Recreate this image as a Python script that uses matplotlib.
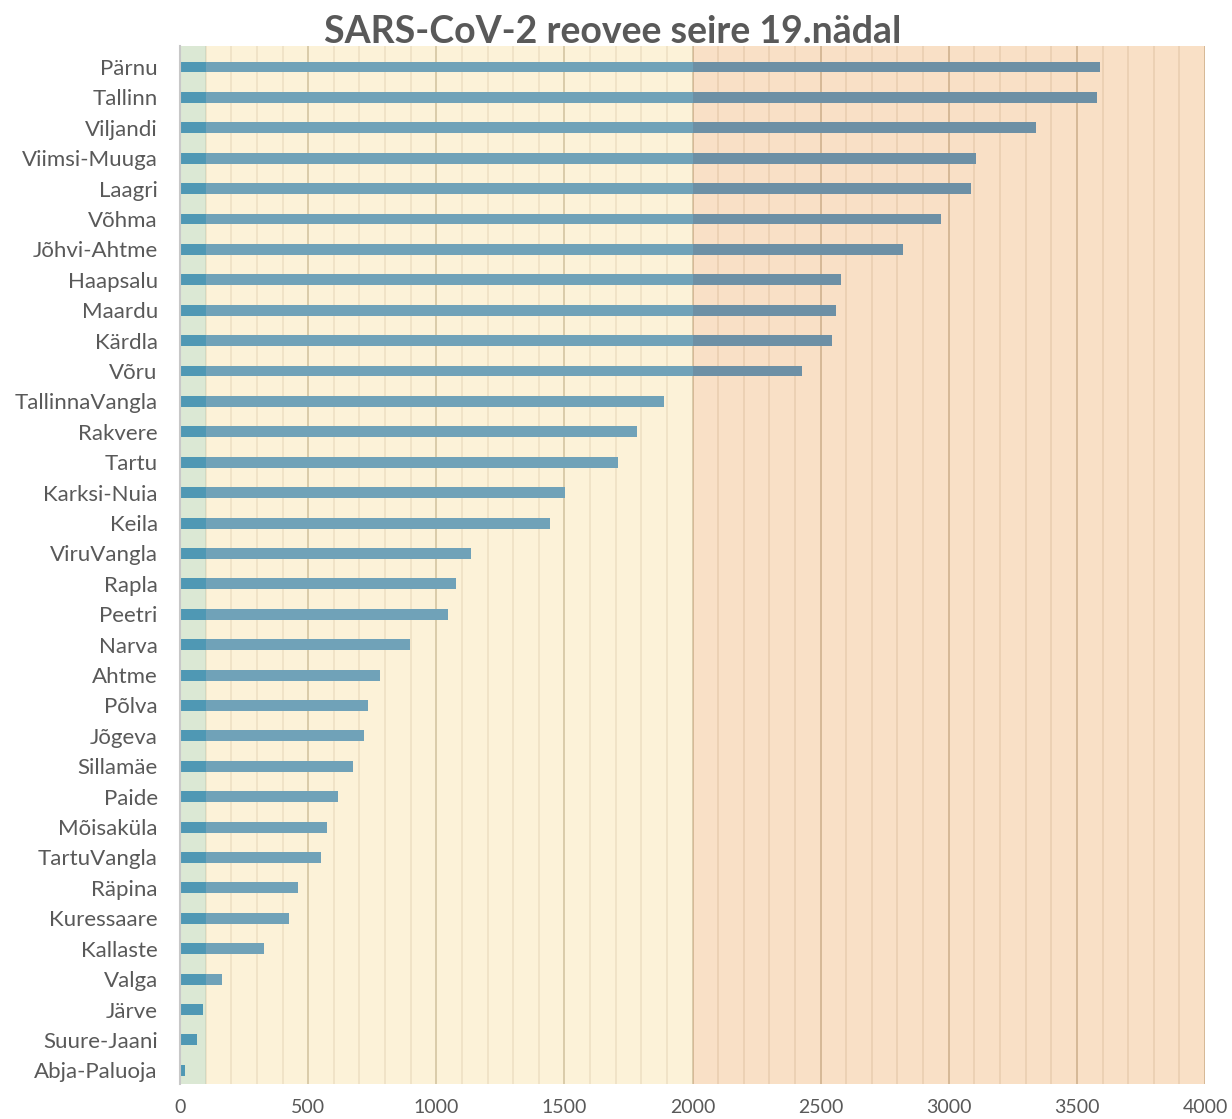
import matplotlib
matplotlib.use("Agg")
import matplotlib.pyplot as plt
from matplotlib.ticker import MultipleLocator

places = ["Pärnu", "Tallinn", "Viljandi", "Viimsi-Muuga", "Laagri", "Võhma",
          "Jõhvi-Ahtme", "Haapsalu", "Maardu", "Kärdla", "Võru", "TallinnaVangla",
          "Rakvere", "Tartu", "Karksi-Nuia", "Keila", "ViruVangla", "Rapla",
          "Peetri", "Narva", "Ahtme", "Põlva", "Jõgeva", "Sillamäe", "Paide",
          "Mõisaküla", "TartuVangla", "Räpina", "Kuressaare", "Kallaste", "Valga",
          "Järve", "Suure-Jaani", "Abja-Paluoja"]
values = [3590, 3578, 3340, 3106, 3087, 2970, 2821, 2580, 2560, 2544, 2427, 1889,
          1783, 1709, 1502, 1444, 1136, 1077, 1046, 898, 780, 734, 718, 675, 617,
          574, 550, 460, 425, 328, 164, 90, 66, 20]
# background level bands (start, end)
band_edges = [0, 100, 2000, 4000]
band_colors = ["#73a757", "#f7cf67", "#e8851c"]
xticks = [0, 500, 1000, 1500, 2000, 2500, 3000, 3500, 4000]

plt.rcParams['font.family'] = ['Lato', 'DejaVu Sans']
fig = plt.figure(figsize=(12.32, 11.19), dpi=100)
ax = fig.add_axes([180/1232, 1 - 1084/1119, (1205-180)/1232, (1084-46)/1119])

n = len(places)
ypos = list(range(n))
ax.barh(ypos, values, height=0.36, color="#4494d4", zorder=2)

for i in range(len(band_colors)):
    ax.axvspan(band_edges[i], band_edges[i+1], color=band_colors[i], alpha=0.25,
               lw=0, zorder=3)

ax.set_xlim(0, 4000)
ax.set_ylim(n - 1 + 0.45, -0.69)
ax.set_yticks(ypos)
ax.set_yticklabels(places)
ax.set_xticks(xticks)
ax.set_xticklabels([str(t) for t in xticks])
ax.xaxis.set_minor_locator(MultipleLocator(100))
ax.grid(axis="x", which="major", color="#cdc6bb", lw=1.3, zorder=0.5)
ax.grid(axis="x", which="minor", color="#ebe8e4", lw=1.2, zorder=0.5)
ax.set_axisbelow(True)

for s in ["top", "right", "bottom"]:
    ax.spines[s].set_visible(False)
ax.spines["left"].set_color("#c8c8c8")
ax.spines["left"].set_linewidth(1.5)
ax.spines["left"].set_zorder(4)

ax.tick_params(axis="both", which="both", length=0, colors="#595959")
ax.tick_params(axis="y", pad=16, labelsize=16)
ax.tick_params(axis="x", pad=11, labelsize=14)

fig.text(0.497, 0.971, "SARS-CoV-2 reovee seire 19.nädal", ha="center", va="center",
         fontsize=27, fontweight="bold", color="#595959")

fig.savefig("out.png", dpi=100)
